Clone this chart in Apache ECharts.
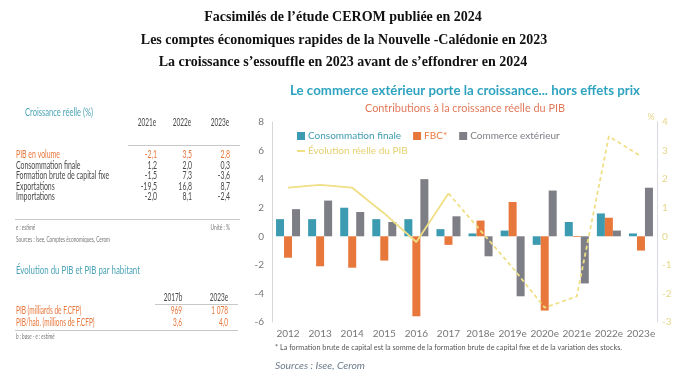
<!DOCTYPE html>
<html><head><meta charset="utf-8">
<script src="https://cdn.jsdelivr.net/npm/echarts@6/dist/echarts.min.js"></script>
<style>html,body{margin:0;padding:0;background:#fff}#c{width:684px;height:384px}</style>
</head><body><div id="c"></div>
<script>
// ---- data ----
const categories = ['2012','2013','2014','2015','2016','2017','2018e','2019e','2020e','2021e','2022e','2023e'];
const consommation = [1.2, 1.2, 2.0, 1.2, 1.2, 0.5, 0.2, 0.4, -0.6, 1.0, 1.6, 0.2];
const fbc = [-1.5, -2.1, -2.2, -1.7, -5.6, -0.6, 1.1, 2.4, -5.2, -0.05, 1.3, -1.0];
const commerce = [1.9, 2.5, 1.7, 1.0, 4.0, 1.4, -1.4, -4.2, 3.2, -3.3, 0.4, 3.4];
const pibEvolution = [1.7, 1.8, 1.7, 0.8, -0.2, 1.5, 0.2, -1.1, -2.5, -2.1, 3.5, 2.8];
const leftTicks = {min: -6, max: 8, interval: 2};
const rightTicks = {min: -3, max: 4, interval: 1};

const titleLines = ['Facsimilés de l\u2019étude CEROM publiée en 2024',
  'Les comptes économiques rapides de la Nouvelle -Calédonie en 2023',
  'La croissance s\u2019essouffle en 2023 avant de s\u2019effondrer en 2024'];

const tableYears = ['2021e', '2022e', '2023e'];
const tableRows = ['PIB en volume', 'Consommation finale', 'Formation brute de capital fixe', 'Exportations', 'Importations'];
const tableValues = [['-2,1','3,5','2,8'], ['1,2','2,0','0,3'], ['-1,5','7,3','-3,6'], ['-19,5','16,8','8,7'], ['-2,0','8,1','-2,4']];
const pibYears = ['2017b', '2023e'];
const pibRows = ['PIB (milliards de F.CFP)', 'PIB/hab. (millions de F.CFP)'];
const pibValues = [['969', '1 078'], ['3,6', '4,0']];

// ---- helpers ----
const FAM = "Lato, 'Noto Sans', sans-serif";
const mctx = document.createElement('canvas').getContext('2d');
function fitScale(text, font, w) { mctx.font = font; const m = mctx.measureText(text).width; return m > 0 ? w / m : 1; }
function txt(t, x, y, o) {
  o = o || {};
  const font = o.font || ('10px ' + FAM);
  const sx = o.w ? fitScale(t, font, o.w) : (o.sx || 1);
  return {type: 'text', x: x, y: y, scaleX: sx, silent: true,
    style: {text: t, x: 0, y: 0, font: font, fill: o.fill || '#333',
      textAlign: o.align || 'left', align: o.align || 'left',
      textVerticalAlign: 'middle', verticalAlign: 'middle'}};
}
function hline(x1, x2, y, c) { return {type: 'line', silent: true, shape: {x1: x1, y1: y, x2: x2, y2: y}, style: {stroke: c || '#b8b8b8', lineWidth: 1}}; }

const ORANGE = '#e8773c', TEAL = '#3c9bb1', GREY = '#7e7e86', YELLOW = '#efdf85', DARK = '#4a4a4a';
const TFONT = '10.5px ' + FAM;
const g = [];
// top titles
const serif = "bold 14px 'Liberation Serif', 'Times New Roman', serif";
g.push(txt(titleLines[0], 343, 17, {font: serif, align: 'center', fill: '#111'}));
g.push(txt(titleLines[1], 344, 40, {font: serif, align: 'center', fill: '#111'}));
g.push(txt(titleLines[2], 343, 62, {font: serif, align: 'center', fill: '#111'}));

// table 1
g.push(txt('Croissance réelle (%)', 25, 112, {font: '11.5px ' + FAM, fill: '#4aa3b6', w: 68}));
const colX = [157, 192, 230];
tableYears.forEach((y, i) => g.push(txt(y, colX[i] - 10, 123, {font: TFONT, fill: DARK, align: 'center', sx: 0.62})));
g.push(hline(128, 240, 145.5, '#c8c8c8'));
const rowY = [155, 165.5, 176, 186.5, 197];
tableRows.forEach((r, i) => {
  const c = i === 0 ? ORANGE : DARK;
  g.push(txt(r, 16, rowY[i], {font: TFONT, fill: c, sx: 0.66}));
  tableValues[i].forEach((v, j) => g.push(txt(v, colX[j], rowY[i], {font: TFONT, fill: c, align: 'right', sx: 0.66})));
});
g.push(hline(15, 240, 219.5, '#c8c8c8'));
g.push(txt('e : estimé', 16, 228, {font: 'italic 7px ' + FAM, fill: '#777', sx: 0.7}));
g.push(txt('Unité : %', 230, 228, {font: '7px ' + FAM, fill: '#777', align: 'right', sx: 0.7}));
g.push(txt('Sources : Isee, Comptes économiques, Cerom', 16, 240, {font: '7px ' + FAM, fill: '#777', w: 94}));

// table 2
g.push(txt('Évolution du PIB et PIB par habitant', 16, 270, {font: '11.5px ' + FAM, fill: '#4aa3b6', w: 124}));
const col2X = [182, 228];
pibYears.forEach((y, i) => g.push(txt(y, col2X[i] - 9, 298, {font: TFONT, fill: DARK, align: 'center', sx: 0.62})));
g.push(hline(155, 238, 304.5, '#c8c8c8'));
const row2Y = [311, 322.5];
pibRows.forEach((r, i) => {
  g.push(txt(r, 16, row2Y[i], {font: TFONT, fill: ORANGE, sx: 0.62}));
  pibValues[i].forEach((v, j) => g.push(txt(v, col2X[j], row2Y[i], {font: TFONT, fill: ORANGE, align: 'right', sx: 0.62})));
});
g.push(hline(15, 238, 330.5, '#c8c8c8'));
g.push(txt('b : base - e : estimé', 16, 337, {font: 'italic 7px ' + FAM, fill: '#777', sx: 0.7}));

// chart texts
g.push(txt('Le commerce extérieur porte la croissance... hors effets prix', 465, 90, {font: 'bold 14px ' + FAM, fill: '#2fa3c0', align: 'center', w: 350}));
g.push(txt('Contributions à la croissance réelle du PIB', 465, 108, {font: '11px ' + FAM, fill: '#e2795a', align: 'center', w: 200}));
g.push(txt('%', 651, 117, {font: '9px ' + FAM, fill: '#e6d68a', align: 'center'}));
g.push(txt('* La formation brute de capital est la somme de la formation brute de capital fixe et de la variation des stocks.', 275, 348, {font: '7px ' + FAM, fill: '#555', w: 347}));
g.push(txt('Sources : Isee, Cerom', 275, 366, {font: 'italic 10px ' + FAM, fill: '#6b7b8c', w: 90}));

const solid = pibEvolution.map((v, i) => i <= 5 ? v : '-');
const dashed = pibEvolution.map((v, i) => i >= 5 ? v : '-');

const chart = echarts.init(document.getElementById('c'));
chart.setOption({
  animation: false,
  backgroundColor: '#fff',
  textStyle: {fontFamily: FAM},
  legend: [
    {left: 292, top: 126, itemWidth: 8, itemHeight: 8, itemGap: 12, icon: 'rect',
     textStyle: {fontSize: 10, padding: [0, 0, 0, -2]},
     data: [{name: 'Consommation finale', textStyle: {color: TEAL}}, {name: 'FBC*', textStyle: {color: ORANGE}}, {name: 'Commerce extérieur', textStyle: {color: GREY}}]},
    {left: 292, top: 141, itemWidth: 8, itemHeight: 2, icon: 'rect',
     textStyle: {fontSize: 10, padding: [0, 0, 0, -2]},
     data: [{name: 'Évolution réelle du PIB', textStyle: {color: '#e6d070'}}]}
  ],
  grid: {left: 272, right: 27, top: 122, bottom: 62},
  xAxis: {type: 'category', data: categories,
    axisLine: {show: false}, axisTick: {show: false},
    axisLabel: {color: '#777', fontSize: 10, margin: 7, interval: 0}},
  yAxis: [
    {type: 'value', min: leftTicks.min, max: leftTicks.max, interval: leftTicks.interval,
     axisLine: {show: true, lineStyle: {color: '#d6d6d6'}}, axisTick: {show: false}, splitLine: {show: false},
     axisLabel: {color: '#777', fontSize: 10, margin: 8}},
    {type: 'value', min: rightTicks.min, max: rightTicks.max, interval: rightTicks.interval, position: 'right',
     axisLine: {show: true, lineStyle: {color: '#d9d9e2'}}, axisTick: {show: false}, splitLine: {show: false},
     axisLabel: {color: '#e6d68a', fontSize: 10, margin: 5}}
  ],
  series: [
    {name: 'Consommation finale', type: 'bar', data: consommation, barWidth: 8, barGap: '0%', itemStyle: {color: TEAL}},
    {name: 'FBC*', type: 'bar', data: fbc, barWidth: 8, barGap: '0%', itemStyle: {color: ORANGE}},
    {name: 'Commerce extérieur', type: 'bar', data: commerce, barWidth: 8, barGap: '0%', itemStyle: {color: GREY}},
    {name: 'Évolution réelle du PIB', type: 'line', yAxisIndex: 1, data: solid, symbol: 'none', z: 5,
     lineStyle: {color: YELLOW, width: 1.8}, itemStyle: {color: YELLOW}},
    {name: 'Évolution réelle du PIB', type: 'line', yAxisIndex: 1, data: dashed, symbol: 'none', z: 5,
     lineStyle: {color: YELLOW, width: 1.8, type: [4, 3]}, itemStyle: {color: YELLOW}}
  ],
  graphic: g
});
</script></body></html>
